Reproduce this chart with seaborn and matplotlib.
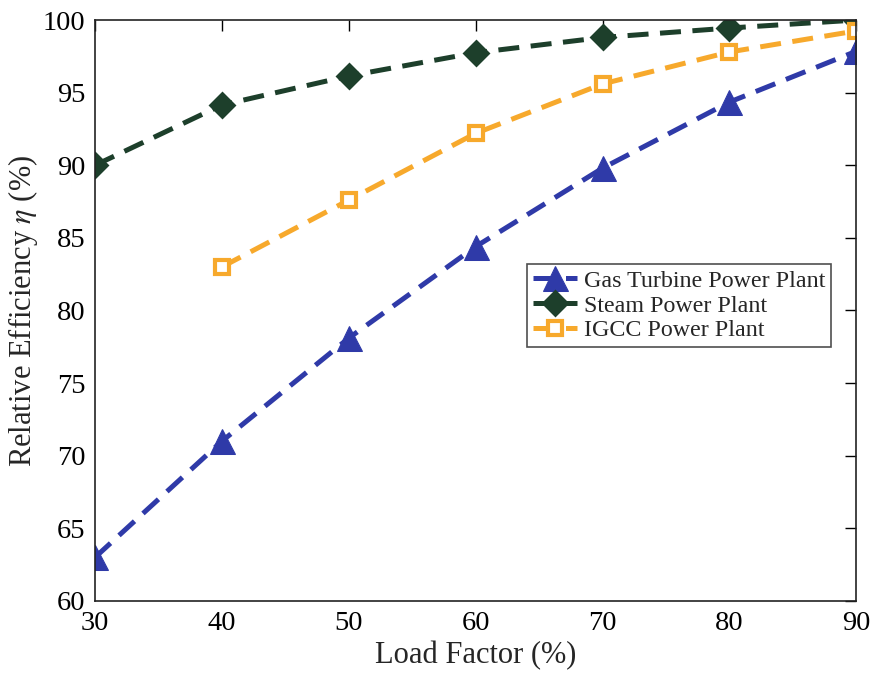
import matplotlib
matplotlib.use("Agg")
import matplotlib.pyplot as plt
import seaborn as sns
import pandas as pd

# Load factor (%) and relative efficiency (%) per plant type
load_factor = [30, 40, 50, 60, 70, 80, 90]
gas_turbine = [63.0, 71.0, 78.1, 84.4, 89.8, 94.35, 97.85]
steam = [90.0, 94.15, 96.15, 97.75, 98.8, 99.45, 100.0]
igcc_load = [40, 50, 60, 70, 80, 90]
igcc = [83.0, 87.6, 92.2, 95.6, 97.8, 99.25]

x_ticks = [30, 40, 50, 60, 70, 80, 90]
y_ticks = [60, 65, 70, 75, 80, 85, 90, 95, 100]

sns.set_theme(style="white")
plt.rcParams["font.family"] = ["Liberation Serif", "DejaVu Serif"]
plt.rcParams["mathtext.fontset"] = "stix"

fig = plt.figure(figsize=(8.72, 6.79), dpi=100)
ax = fig.add_axes([0.109, 0.115, 0.873, 0.8555])

dash = (0, (4.2, 2.3))
lw = 3.6

gas_df = pd.DataFrame({"load": load_factor, "eff": gas_turbine})
steam_df = pd.DataFrame({"load": load_factor, "eff": steam})
igcc_df = pd.DataFrame({"load": igcc_load, "eff": igcc})

sns.lineplot(data=gas_df, x="load", y="eff", ax=ax, color="#2f3aa8",
             linewidth=lw, linestyle=dash, marker="^", markersize=18,
             markerfacecolor="#2f3aa8", markeredgecolor="#2f3aa8",
             label="Gas Turbine Power Plant")
sns.lineplot(data=steam_df, x="load", y="eff", ax=ax, color="#1d3f2b",
             linewidth=lw, linestyle=dash, marker="D", markersize=12,
             markerfacecolor="#1d3f2b", markeredgecolor="#1d3f2b",
             markeredgewidth=2, label="Steam Power Plant")
sns.lineplot(data=igcc_df, x="load", y="eff", ax=ax, color="#f7a92c",
             linewidth=lw, linestyle=dash, marker="s", markersize=10,
             markerfacecolor="white", markeredgecolor="#f7a92c",
             markeredgewidth=3, label="IGCC Power Plant")

ax.set_xlim(30, 90)
ax.set_ylim(60, 100)
ax.set_xticks(x_ticks)
ax.set_yticks(y_ticks)
ax.tick_params(direction="in", length=8, width=1, top=True, right=True,
               labelsize=20.5, colors="black", pad=7)
for side in ax.spines.values():
    side.set_color("#222222")
    side.set_linewidth(1.2)

ax.set_xlabel("Load Factor (%)", fontsize=22, labelpad=4)
ax.set_ylabel(r"Relative Efficiency $\eta$ (%)", fontsize=22, labelpad=2)

leg = ax.legend(loc="upper left", bbox_to_anchor=(0.568, 0.58), fontsize=17.3,
                frameon=True, fancybox=False, edgecolor="#222222",
                borderpad=0.25, handlelength=1.8, handletextpad=0.3,
                labelspacing=0.12, borderaxespad=0)
leg.get_frame().set_linewidth(1.2)

fig.savefig("out.png", dpi=100, facecolor="white")
